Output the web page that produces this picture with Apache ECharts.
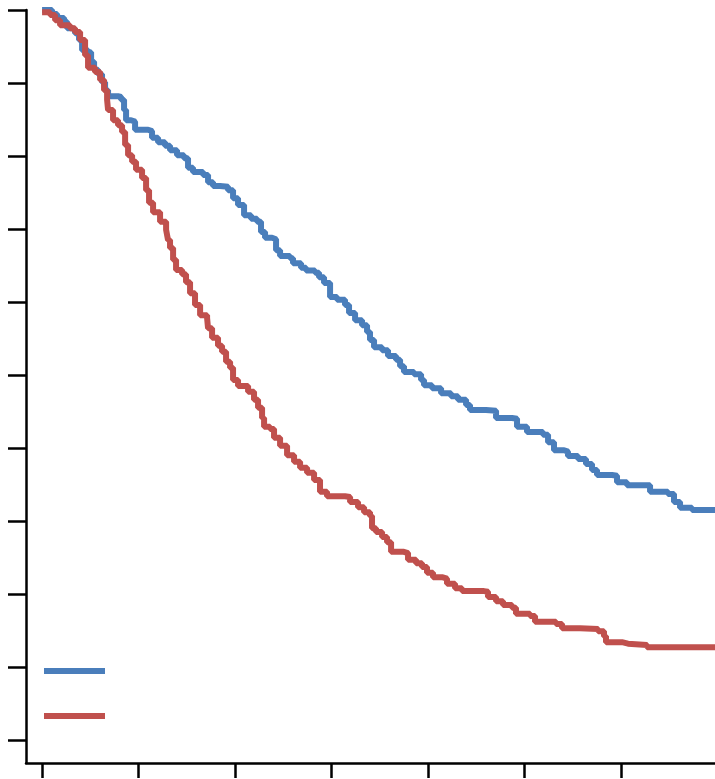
<!DOCTYPE html>
<html>
<head>
<meta charset="utf-8">
<script src="https://cdn.jsdelivr.net/npm/echarts@6/dist/echarts.min.js"></script>
<style>
  html, body { margin: 0; padding: 0; background: #ffffff; }
  #chart { width: 715px; height: 779px; }
</style>
</head>
<body>
<div id="chart"></div>
<script>
// Kaplan–Meier style survival curves (time in months, survival in %)
const xTicks = [0, 12, 24, 36, 48, 60, 72];
const yTicks = [0, 10, 20, 30, 40, 50, 60, 70, 80, 90, 100];

const groupAName = 'Group A';
const groupBName = 'Group B';

const groupAMonths = [0, 1.24, 1.87, 2.74, 3.11, 3.73, 4.10, 4.60, 4.98, 5.72, 6.10, 6.47, 6.97, 7.46, 7.84, 8.21,
  9.45, 9.83, 10.20, 10.45, 11.07, 11.57, 13.19, 13.68, 14.43, 15.30, 15.92, 16.79, 17.66, 18.16, 18.78,
  20.03, 20.65, 21.27, 22.14, 23.14, 23.76, 24.38, 25.13, 26.00, 26.75, 27.24, 27.74, 28.61, 29.11, 29.61,
  30.85, 31.22, 32.22, 32.84, 33.96, 34.46, 35.08, 35.83, 36.70, 37.69, 38.19, 38.94, 39.81, 40.43, 40.80,
  41.30, 42.30, 43.04, 44.04, 44.54, 45.03, 46.28, 47.15, 47.52, 48.52, 49.64, 50.88, 51.75, 52.75, 53.24,
  55.23, 56.48, 58.47, 59.09, 60.33, 62.32, 62.95, 63.69, 64.94, 65.43, 66.68, 67.67, 68.42, 69.04, 70.91,
  71.53, 72.77, 75.64, 77.87, 78.62, 79.37, 80.86, 83.72];
const groupASurvival = [100, 99.45, 98.9, 98.4, 97.5, 97.3, 96.8, 95.9, 94.5, 94.2, 92.9, 91.8, 91.2, 90.1, 89.0, 88.2,
  88.1, 87.7, 86.3, 84.9, 84.7, 83.6, 83.4, 82.5, 81.9, 81.4, 80.8, 80.1, 79.7, 78.4, 77.8,
  77.4, 76.4, 75.9, 75.8, 75.3, 74.2, 73.3, 71.9, 71.4, 71.0, 69.6, 68.8, 68.6, 67.1, 66.3,
  66.0, 65.3, 64.7, 64.3, 64.0, 63.4, 62.6, 60.7, 60.3, 59.6, 58.5, 57.5, 56.8, 55.9, 54.8,
  53.8, 53.4, 52.6, 52.1, 51.2, 50.4, 50.1, 49.3, 48.6, 48.2, 47.5, 47.1, 46.6, 45.9, 45.2,
  45.1, 44.1, 44.0, 42.9, 42.2, 41.8, 40.8, 39.7, 39.5, 38.9, 38.5, 37.8, 37.0, 36.3, 36.2,
  35.3, 34.9, 34.0, 33.7, 32.6, 31.8, 31.5, 31.5];

const groupBMonths = [0, 1.00, 1.62, 2.24, 3.48, 4.10, 4.73, 5.35, 5.72, 6.59, 7.22, 7.71, 8.09, 8.21, 8.83, 9.45,
  9.95, 10.33, 10.70, 11.20, 11.69, 12.44, 12.94, 13.31, 13.81, 14.68, 15.43, 15.67, 15.92, 16.30, 16.67,
  17.42, 17.91, 18.41, 19.03, 19.66, 20.53, 20.65, 21.15, 21.89, 22.39, 22.89, 23.39, 23.76, 24.38, 25.63,
  26.37, 26.87, 27.37, 27.62, 28.36, 28.86, 29.61, 30.48, 31.35, 32.10, 32.97, 33.84, 34.58, 35.45, 37.69,
  38.32, 39.31, 40.06, 40.80, 41.05, 41.55, 42.30, 42.92, 43.42, 44.91, 45.53, 46.53, 47.27, 47.89, 48.64,
  49.76, 50.38, 51.38, 52.25, 54.98, 55.48, 56.48, 57.35, 58.47, 58.96, 60.71, 61.33, 63.94, 64.69, 66.93,
  69.17, 69.91, 70.16, 72.15, 72.90, 75.26, 83.72];
const groupBSurvival = [99.7, 99.3, 98.6, 97.9, 97.5, 97.0, 95.9, 93.8, 92.1, 91.5, 90.4, 89.0, 87.7, 86.3, 84.9, 84.2,
  83.3, 81.5, 80.1, 79.2, 78.1, 77.0, 75.3, 73.6, 72.3, 71.0, 69.9, 68.5, 67.4, 65.8, 64.4,
  63.8, 62.7, 61.2, 59.6, 58.2, 57.8, 56.4, 55.1, 54.0, 53.2, 51.8, 51.0, 49.3, 48.5, 47.7,
  46.6, 45.5, 44.1, 42.9, 42.6, 41.4, 40.3, 39.0, 38.1, 37.3, 36.6, 35.6, 34.0, 33.4, 33.3,
  32.6, 31.9, 31.2, 30.7, 29.0, 28.5, 27.8, 27.1, 25.8, 25.6, 24.7, 24.2, 23.7, 22.9, 22.3,
  22.1, 21.4, 20.8, 20.4, 20.3, 19.6, 19.0, 18.5, 18.1, 17.3, 17.0, 16.2, 15.9, 15.3, 15.2,
  14.9, 14.2, 13.4, 13.2, 13.0, 12.7, 12.7];

const blue = '#4a7ebb';
const red = '#c0504d';

function pairs(xs, ys) {
  return xs.map((x, i) => [x, ys[i]]);
}

const chart = echarts.init(document.getElementById('chart'), null, { renderer: 'canvas' });

const axisLine = { show: true, lineStyle: { color: '#000000', width: 2.5 } };

chart.setOption({
  animation: false,
  backgroundColor: '#ffffff',
  grid: { left: 26, right: 0, top: 10, bottom: 16, containLabel: false },
  legend: {
    orient: 'vertical',
    left: 39,
    top: 663,
    icon: 'rect',
    itemWidth: 61,
    itemHeight: 6,
    itemGap: 39,
    formatter: () => '',
    textStyle: { fontSize: 1 },
    selectedMode: false,
    data: [groupAName, groupBName]
  },
  xAxis: {
    type: 'value',
    min: -2,
    max: 83.72,
    axisLine: { ...axisLine, onZero: false },
    axisTick: { show: true, inside: false, length: 15, customValues: xTicks,
      lineStyle: { color: '#000000', width: 2.5 } },
    axisLabel: { show: false },
    splitLine: { show: false }
  },
  yAxis: {
    type: 'value',
    min: -3.15,
    max: 100,
    axisLine: { ...axisLine, onZero: false },
    axisTick: { show: true, inside: false, length: 18, customValues: yTicks,
      lineStyle: { color: '#000000', width: 2.5 } },
    axisLabel: { show: false },
    splitLine: { show: false }
  },
  series: [
    {
      name: groupAName,
      type: 'line',
      step: 'end',
      showSymbol: false,
      symbol: 'none',
      clip: false,
      data: pairs(groupAMonths, groupASurvival),
      itemStyle: { color: blue },
      lineStyle: { color: blue, width: 6 }
    },
    {
      name: groupBName,
      type: 'line',
      step: 'end',
      showSymbol: false,
      symbol: 'none',
      clip: false,
      data: pairs(groupBMonths, groupBSurvival),
      itemStyle: { color: red },
      lineStyle: { color: red, width: 6 }
    }
  ]
});
</script>
</body>
</html>
